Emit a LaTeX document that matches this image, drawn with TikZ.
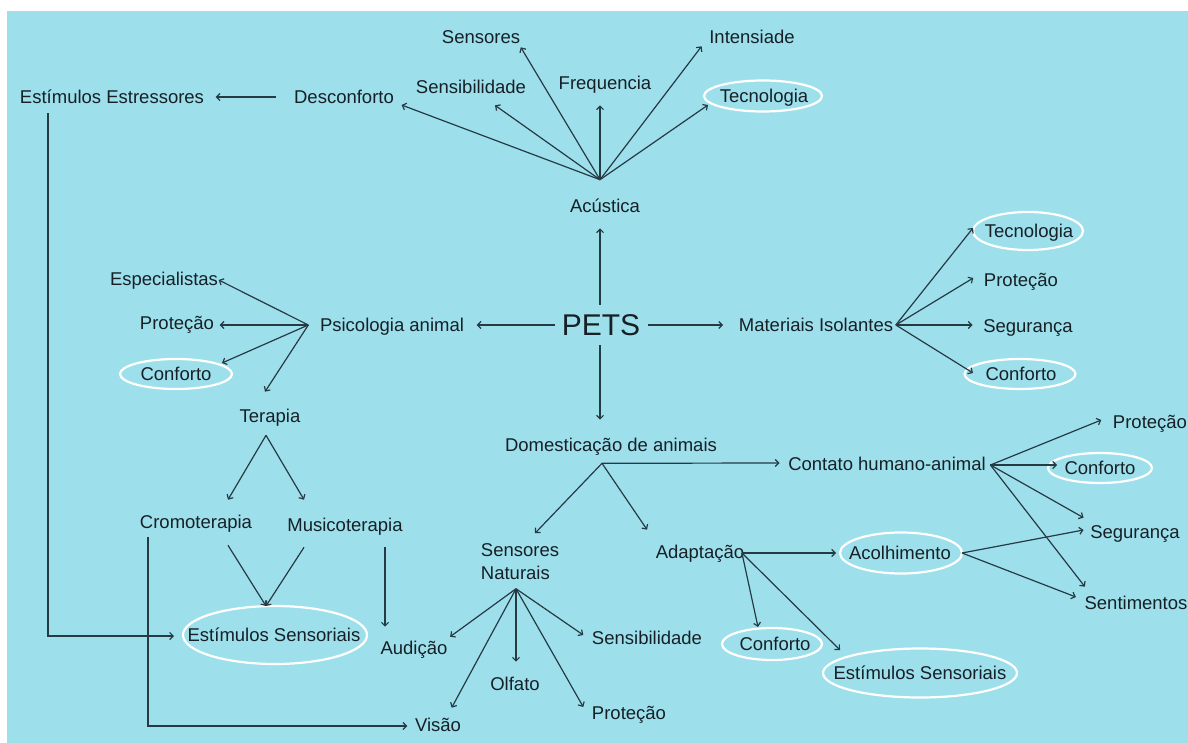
\documentclass[tikz,border=0pt]{standalone}
\usepackage{fontspec}
\setmainfont{Liberation Sans}
\usetikzlibrary{arrows.meta,calc}
\definecolor{bgblue}{RGB}{157,224,236}
\definecolor{ink}{RGB}{22,32,38}
\definecolor{wire}{RGB}{38,58,68}
\begin{document}
\begin{tikzpicture}[x=1pt,y=-1pt,
  lbl/.style={font=\fontsize{18.5}{23}\selectfont, text=ink, inner sep=1.5pt,
              text height=13.2pt, text depth=0pt},
  ring/.style={draw=white, line width=2.2pt},
  arr/.style={draw=wire, line width=1.2pt, -{Straight Barb[length=3.5pt,width=7pt]}},
]
\useasboundingbox (0,0) rectangle (1188,743);
\fill[bgblue] (7,11) rectangle (1188,743);

% ---------- centre ----------
\node[lbl, font=\fontsize{30}{36}\selectfont, text height=21.5pt] (pets) at (601,325) {PETS};

% ---------- acoustics branch ----------
\node[lbl] (acus)   at (605,206) {Acústica};
\node[lbl] (estr)   at (112,97)  {Estímulos Estressores};
\node[lbl] (desc)   at (344,97)  {Desconforto};
\node[lbl] (sens)   at (481,37)  {Sensores};
\node[lbl] (sensib) at (471,87)  {Sensibilidade};
\node[lbl] (freq)   at (605,83)  {Frequencia};
\node[lbl] (inten)  at (752,37)  {Intensiade};
\node[lbl] (tec1)   at (764,96)  {Tecnologia};

% ---------- psychology branch ----------
\node[lbl] (psi)   at (392,325) {Psicologia animal};
\node[lbl] (esp)   at (164,279) {Especialistas};
\node[lbl] (prot1) at (177,323) {Proteção};
\node[lbl] (conf1) at (176,374) {Conforto};
\node[lbl] (ter)   at (270,416) {Terapia};
\node[lbl] (crom)  at (196,522) {Cromoterapia};
\node[lbl] (musi)  at (345,525) {Musicoterapia};
\node[lbl] (estS1) at (274,635) {Estímulos Sensoriais};
\node[lbl] (aud)   at (414,648) {Audição};
\node[lbl] (vis)   at (438,725) {Visão};

% ---------- insulation branch ----------
\node[lbl] (mat)   at (816,325) {Materiais Isolantes};
\node[lbl] (tec2)  at (1029,231) {Tecnologia};
\node[lbl] (prot2) at (1021,280) {Proteção};
\node[lbl] (seg1)  at (1028,326) {Segurança};
\node[lbl] (conf2) at (1021,374) {Conforto};

% ---------- domestication branch ----------
\node[lbl] (dom)   at (611,445) {Domesticação de animais};
\node[lbl] (cont)  at (887,464) {Contato humano-animal};
\node[lbl] (prot3) at (1150,422) {Proteção};
\node[lbl] (conf3) at (1100,468) {Conforto};
\node[lbl] (seg2)  at (1135,532) {Segurança};
\node[lbl] (sent)  at (1136,603) {Sentimentos};
\node[lbl] (acol)  at (900,553) {Acolhimento};
\node[lbl] (adap)  at (700,552) {Adaptação};
\node[lbl] (conf4) at (775,644) {Conforto};
\node[lbl] (estS2) at (920,673) {Estímulos Sensoriais};
\node[lbl, align=left, text height=, text depth=] (snat) at (520,562) {Sensores\\Naturais};
\node[lbl] (sensib2) at (647,638) {Sensibilidade};
\node[lbl] (olf)   at (515,684) {Olfato};
\node[lbl] (prot4) at (629,713) {Proteção};

% ---------- white rings round the highlighted terms ----------
\draw[ring] ($(tec1.center)+(-1,0)$)  ellipse [x radius=59, y radius=15.5];
\draw[ring] (conf1.center) ellipse [x radius=56, y radius=15];
\draw[ring] ($(estS1.center)+(1,0)$) ellipse [x radius=92, y radius=29];
\draw[ring] ($(tec2.center)+(-1,0)$)  ellipse [x radius=55, y radius=19];
\draw[ring] ($(conf2.center)+(-1,0)$) ellipse [x radius=55.5, y radius=15];
\draw[ring] (conf3.center) ellipse [x radius=52, y radius=15];
\draw[ring] ($(acol.center)+(1,0)$) ellipse [x radius=61, y radius=20.5];
\draw[ring] ($(conf4.center)+(-3,0)$) ellipse [x radius=50, y radius=16];
\draw[ring] (estS2.center) ellipse [x radius=97, y radius=24.5];

% ---------- junction points ----------
\coordinate (acHub)   at ($(acus.north)+(-5,-18)$);
\coordinate (psiHub)  at ($(psi.west)+(-10,0)$);
\coordinate (terHub)  at ($(ter.south)+(-4,11)$);
\coordinate (matHub)  at ($(mat.east)+(1,0)$);
\coordinate (domHub)  at ($(dom.south)+(-9,10)$);
\coordinate (contHub) at ($(cont.east)+(3,1)$);
\coordinate (acolHub) at ($(acol.center)+(62,0)$);
\coordinate (adHub)   at ($(adap.east)+(-4,1)$);
\coordinate (snHub)   at ($(snat.south)+(-4,7)$);

% ---------- connectors from PETS ----------
\draw[arr] ($(pets.north)+(-1,-8)$) -- ($(acus.south)+(-5,14)$);
\draw[arr] ($(pets.west)+(-5,0)$) -- ($(psi.east)+(11,0)$);
\draw[arr] ($(pets.east)+(6,0)$) -- ($(mat.west)+(-14,0)$);
\draw[arr] ($(pets.south)+(-1,8)$) -- ($(dom.north)+(-11,-17)$);

% acoustics
\draw[arr] (acHub) -- ($(desc.east)+(6,8)$);
\draw[arr] (acHub) -- ($(sensib.south)+(24,10)$);
\draw[arr] (acHub) -- ($(sens.south east)+(-1,2)$);
\draw[arr] (acHub) -- ($(freq.south)+(-5,14)$);
\draw[arr] (acHub) -- ($(inten.south west)+(-6,1)$);
\draw[arr] (acHub) -- ($(tec1.center)+(-56,9)$);
\draw[arr] ($(desc.west)+(-16,0)$) -- ($(estr.east)+(10,0)$);
\draw[arr] ($(estr.south)+(-64,8)$) |- ($(estS1.center)+(-100,1)$);

% psychology
\draw[arr] (psiHub) -- ($(esp.east)+(-1,1)$);
\draw[arr] (psiHub) -- ($(prot1.east)+(4,2)$);
\draw[arr] (psiHub) -- ($(conf1.center)+(46,-11)$);
\draw[arr] (psiHub) -- ($(ter.north)+(-5,-16)$);
\draw[arr] (terHub) -- ($(crom.north)+(32,-14)$);
\draw[arr] (terHub) -- ($(musi.north)+(-41,-17)$);
\draw[arr] ($(crom.south)+(32,15)$) -- ($(estS1.center)+(-8,-29)$);
\draw[arr] ($(musi.south)+(-41,14)$) -- ($(estS1.center)+(-8,-29)$);
\draw[arr] ($(musi.south)+(40,14)$) -- ($(aud.north)+(-29,-13)$);
\draw[arr] ($(crom.south)+(-48,7)$) |- ($(vis.west)+(-6,1)$);

% insulation
\draw[arr] (matHub) -- ($(tec2.center)+(-56,-3)$);
\draw[arr] (matHub) -- ($(prot2.west)+(-9,-2)$);
\draw[arr] (matHub) -- ($(seg1.west)+(-9,-1)$);
\draw[arr] (matHub) -- ($(conf2.center)+(-48,-1)$);

% domestication
\draw[arr] (domHub) -- ($(cont.west)+(-7,-1)$);
\draw[arr] (domHub) -- ($(snat.north)+(15,-9)$);
\draw[arr] (domHub) -- ($(adap.north west)+(-7,-14)$);

\draw[arr] (contHub) -- ($(prot3.west)+(-10,-2)$);
\draw[arr] (contHub) -- ($(conf3.center)+(-43,-3)$);
\draw[arr] (contHub) -- ($(seg2.north west)+(-5,-6)$);
\draw[arr] (contHub) -- ($(sent.north west)+(2,-8)$);

\draw[arr] (acolHub) -- ($(seg2.west)+(-5,-2)$);
\draw[arr] (acolHub) -- ($(sent.west)+(-7,-6)$);

\draw[arr] (adHub) -- ($(acol.center)+(-64,0)$);
\draw[arr] (adHub) -- ($(conf4.center)+(-17,-17)$);
\draw[arr] (adHub) -- ($(estS2.center)+(-80,-23)$);

\draw[arr] (snHub) -- ($(aud.north east)+(1,-3)$);
\draw[arr] (snHub) -- ($(vis.north east)+(-11,-9)$);
\draw[arr] (snHub) -- ($(olf.north)+(1,-14)$);
\draw[arr] (snHub) -- ($(prot4.west)+(-7,-6)$);
\draw[arr] (snHub) -- ($(sensib2.west)+(-7,-3)$);
\end{tikzpicture}
\end{document}
